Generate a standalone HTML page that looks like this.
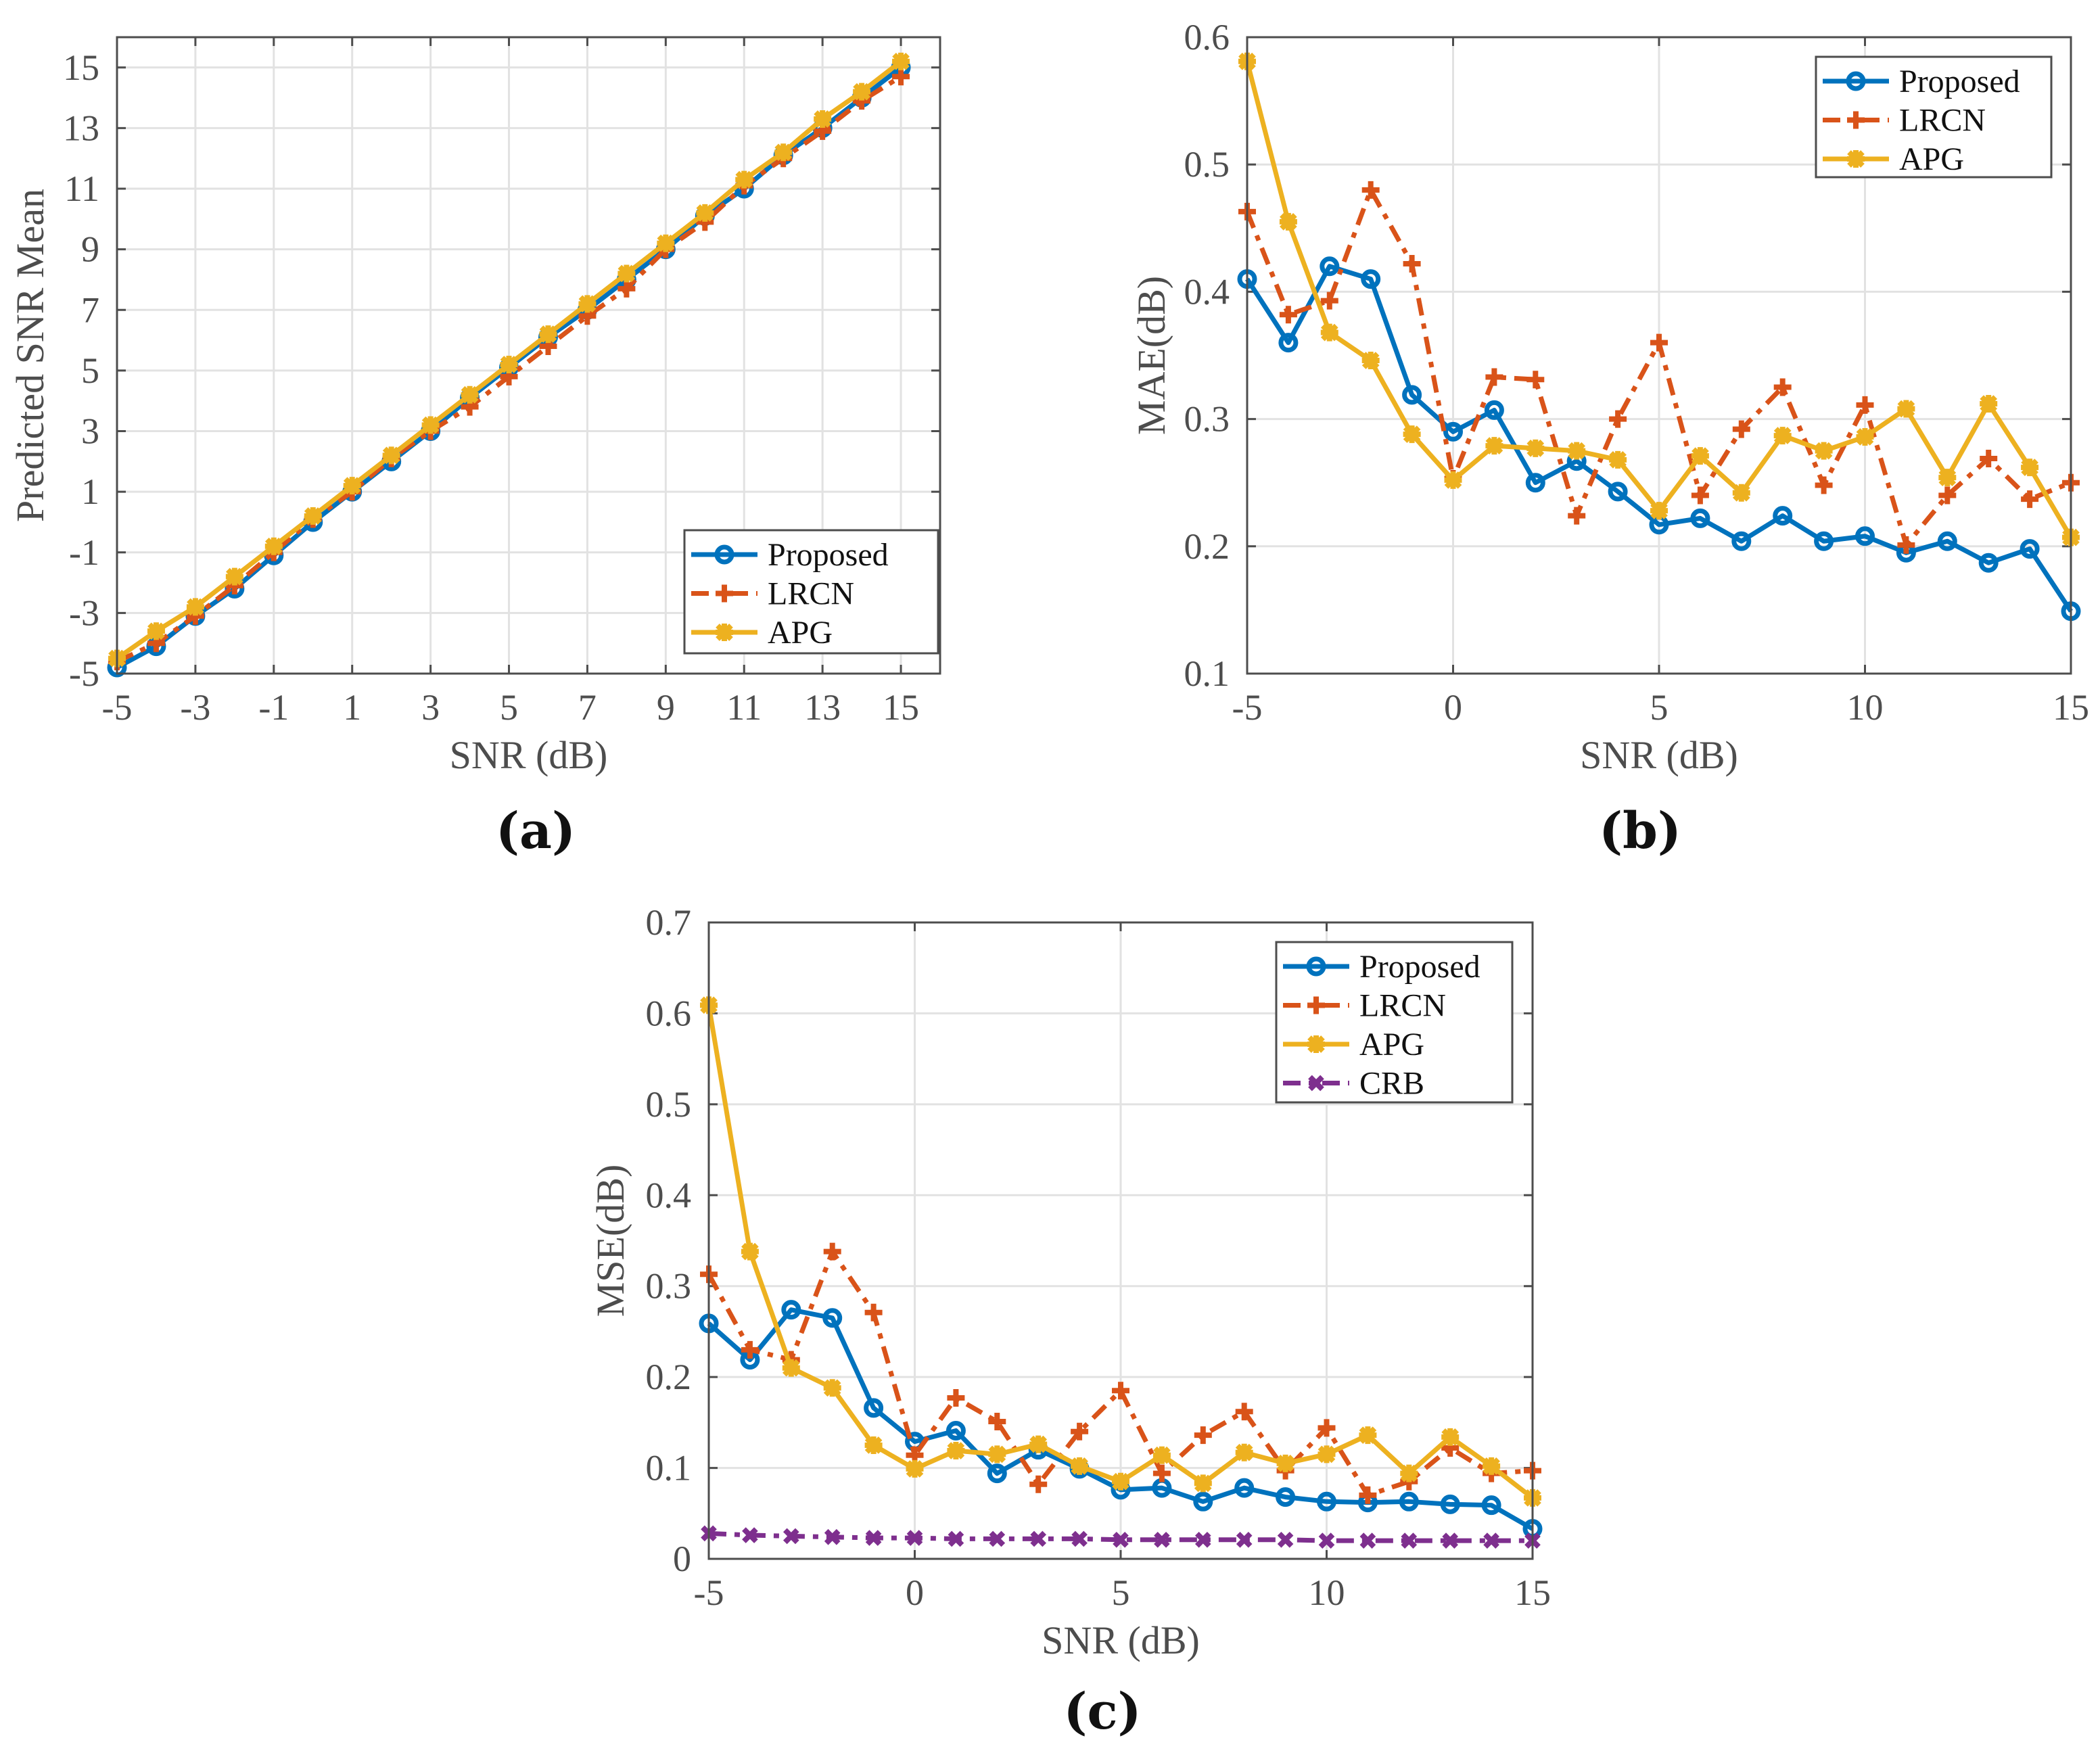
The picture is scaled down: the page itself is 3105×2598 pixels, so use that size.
<!DOCTYPE html>
<html><head><meta charset="utf-8"><style>
html,body{margin:0;padding:0;background:#fff;}
svg{display:block;font-family:"Liberation Serif",serif;}
</style></head><body>
<svg id="fig" width="3105" height="2598" viewBox="0 0 3105 2598" xmlns="http://www.w3.org/2000/svg"></svg>
<script>
const snr = [-5,-4,-3,-2,-1,0,1,2,3,4,5,6,7,8,9,10,11,12,13,14,15];
const aProposed = [-4.8,-4.1,-3.1,-2.2,-1.1,0,1.0,2.0,3.0,4.1,5.1,6.1,7.0,8.0,9.0,10.1,11.0,12.1,13.0,14.0,15.0];
const aLRCN = [-4.6,-4.0,-3.1,-2.1,-1.0,0.1,1.0,2.1,3.0,3.8,4.8,5.8,6.8,7.7,9.0,9.9,11.1,12.0,12.9,13.9,14.7];
const aAPG = [-4.5,-3.6,-2.8,-1.8,-0.8,0.2,1.2,2.2,3.2,4.2,5.2,6.2,7.2,8.2,9.2,10.2,11.3,12.2,13.3,14.2,15.2];
const bProposed = [0.410,0.360,0.420,0.410,0.319,0.290,0.307,0.250,0.267,0.243,0.217,0.222,0.204,0.224,0.204,0.208,0.195,0.204,0.187,0.198,0.149];
const bLRCN = [0.463,0.382,0.393,0.480,0.422,0.253,0.333,0.331,0.224,0.300,0.360,0.240,0.292,0.325,0.248,0.311,0.201,0.240,0.269,0.237,0.250];
const bAPG = [0.581,0.455,0.368,0.346,0.288,0.252,0.279,0.277,0.275,0.268,0.228,0.271,0.242,0.287,0.275,0.286,0.308,0.254,0.312,0.262,0.207];
const cProposed = [0.259,0.219,0.274,0.265,0.166,0.129,0.141,0.094,0.120,0.099,0.076,0.078,0.063,0.078,0.068,0.063,0.062,0.063,0.060,0.059,0.033];
const cLRCN = [0.313,0.230,0.219,0.338,0.271,0.114,0.177,0.151,0.082,0.140,0.185,0.094,0.136,0.162,0.097,0.144,0.070,0.085,0.122,0.094,0.097];
const cAPG = [0.609,0.338,0.210,0.188,0.125,0.099,0.119,0.115,0.126,0.102,0.085,0.114,0.083,0.117,0.105,0.115,0.136,0.094,0.134,0.102,0.067];
const cCRB = [0.028,0.026,0.025,0.024,0.023,0.023,0.022,0.022,0.022,0.022,0.021,0.021,0.021,0.021,0.021,0.020,0.020,0.020,0.020,0.020,0.020];
const aXTicks = [-5,-3,-1,1,3,5,7,9,11,13,15];
const aYTicks = [-5,-3,-1,1,3,5,7,9,11,13,15];
const bxT = [-5,0,5,10,15];
const bYTicks = [0.1,0.2,0.3,0.4,0.5,0.6];
const cYTicks = [0,0.1,0.2,0.3,0.4,0.5,0.6,0.7];

const NS='http://www.w3.org/2000/svg';
const svg=document.getElementById('fig');
function el(tag,attrs,parent){const e=document.createElementNS(NS,tag);for(const k in attrs)e.setAttribute(k,attrs[k]);(parent||svg).appendChild(e);return e;}
const COL={Proposed:'#0072BD',LRCN:'#D95319',APG:'#EDB120',CRB:'#7E2F8E'};
const DASH={Proposed:null,LRCN:'26 12 8 12',APG:null,CRB:'26 12 8 12'};

function marker(g,name,x,y){
  const c=COL[name];
  if(name==='Proposed'){const m=el('circle',{cx:x,cy:y,r:11,fill:'none',stroke:c,'stroke-width':7},g);}
  else if(name==='LRCN'){const m=el('path',{d:`M${x-13},${y}H${x+13}M${x},${y-13}V${y+13}`,stroke:c,'stroke-width':8,fill:'none'},g);}
  else if(name==='APG'){const m=el('path',{d:`M${x-13},${y}H${x+13}M${x},${y-13}V${y+13}M${x-10},${y-10}L${x+10},${y+10}M${x-10},${y+10}L${x+10},${y-10}`,stroke:c,'stroke-width':8,fill:'none'},g);}
  else {const m=el('path',{d:`M${x-9},${y-9}L${x+9},${y+9}M${x-9},${y+9}L${x+9},${y-9}`,stroke:c,'stroke-width':8,fill:'none'},g);}
}

function chart(o){
  const g=el('g',{});
  
  
  const sx=v=>o.L+(v-o.x0)/(o.x1-o.x0)*(o.R-o.L);
  const sy=v=>o.B-(v-o.y0)/(o.y1-o.y0)*(o.B-o.T);
  o.xt.forEach(v=>{const l=el('line',{x1:sx(v),x2:sx(v),y1:o.T,y2:o.B,stroke:'#e2e2e2','stroke-width':3},g);});
  o.yt.forEach(v=>{const l=el('line',{x1:o.L,x2:o.R,y1:sy(v),y2:sy(v),stroke:'#e2e2e2','stroke-width':3},g);});
  o.xt.forEach(v=>{const x=sx(v);const t=el('path',{d:`M${x},${o.B}v-13M${x},${o.T}v13`,stroke:'#4d4d4d','stroke-width':3},g);
    const tx=el('text',{x:x,y:o.B+68,'text-anchor':'middle','font-size':54,fill:'#4d4d4d'},g);tx.textContent=o.xf(v);});
  o.yt.forEach(v=>{const y=sy(v);const t=el('path',{d:`M${o.L},${y}h13M${o.R},${y}h-13`,stroke:'#4d4d4d','stroke-width':3},g);
    const tx=el('text',{x:o.L-26,y:y+18,'text-anchor':'end','font-size':54,fill:'#4d4d4d'},g);tx.textContent=o.yf(v);});
  o.series.forEach(s=>{
    const pts=snr.map((x,i)=>sx(x)+','+sy(s.vals[i])).join(' ');
    const a={points:pts,fill:'none',stroke:COL[s.n],'stroke-width':7,'stroke-linejoin':'round'};
    if(DASH[s.n])a['stroke-dasharray']=DASH[s.n];
    const p=el('polyline',a,g);
    snr.forEach((x,i)=>marker(g,s.n,sx(x),sy(s.vals[i])));
  });
  const fr=el('rect',{x:o.L,y:o.T,width:o.R-o.L,height:o.B-o.T,fill:'none',stroke:'#4d4d4d','stroke-width':3},g);
  const xt=el('text',{x:(o.L+o.R)/2,y:o.B+140,'text-anchor':'middle','font-size':58,fill:'#4d4d4d'},g);xt.textContent='SNR (dB)';
  const yx=o.ylx, yy=(o.T+o.B)/2;
  const yt=el('text',{x:yx,y:yy,'text-anchor':'middle','font-size':58,fill:'#4d4d4d',transform:`rotate(-90 ${yx} ${yy})`},g);yt.textContent=o.ylab;
  const lg=el('g',{},g);
  const lb=el('rect',{x:o.lg.x,y:o.lg.y,width:o.lg.w,height:o.lg.h,fill:'#fff',stroke:'#4d4d4d','stroke-width':3},lg);
  o.series.forEach((s,i)=>{
    const y=o.lg.y+36+i*57.5, x0=o.lg.x+10, x1=o.lg.x+108;
    const la={x1:x0,x2:x1,y1:y,y2:y,stroke:COL[s.n],'stroke-width':7};
    if(DASH[s.n])la['stroke-dasharray']=DASH[s.n];
    const ll=el('line',la,lg);
    marker(lg,s.n,(x0+x1)/2,y);
    const t=el('text',{x:o.lg.x+123,y:y+16,'font-size':48,fill:'#111'},lg);t.textContent=s.n;
  });
  const cap=el('text',{x:o.cap[0],y:o.cap[1],'text-anchor':'middle','font-size':74,'font-weight':'bold',fill:'#111','font-family':'"DejaVu Serif",serif'},g);cap.textContent=o.capt;
}
chart({name:'chart-a',L:173,R:1390,T:55,B:996,x0:-5,x1:16,y0:-5,y1:16,xt:aXTicks,yt:aYTicks,xf:v=>String(v),yf:v=>String(v),
  series:[{n:'Proposed',vals:aProposed},{n:'LRCN',vals:aLRCN},{n:'APG',vals:aAPG}],ylab:'Predicted SNR Mean',ylx:64,
  lg:{x:1012,y:784,w:375,h:182},cap:[792,1254],capt:'(a)'});
chart({name:'chart-b',L:1844,R:3062,T:55,B:996,x0:-5,x1:15,y0:0.1,y1:0.6,xt:bxT,yt:bYTicks,xf:v=>String(v),yf:v=>v.toFixed(1),
  series:[{n:'Proposed',vals:bProposed},{n:'LRCN',vals:bLRCN},{n:'APG',vals:bAPG}],ylab:'MAE(dB)',ylx:1722,
  lg:{x:2685,y:84,w:348,h:178},cap:[2425,1254],capt:'(b)'});
chart({name:'chart-c',L:1048,R:2266,T:1364,B:2305,x0:-5,x1:15,y0:0,y1:0.7,xt:bxT,yt:cYTicks,xf:v=>String(v),yf:v=>v===0?'0':v.toFixed(1),
  series:[{n:'Proposed',vals:cProposed},{n:'LRCN',vals:cLRCN},{n:'APG',vals:cAPG},{n:'CRB',vals:cCRB}],ylab:'MSE(dB)',ylx:922,
  lg:{x:1887,y:1393,w:349,h:237},cap:[1630,2556],capt:'(c)'});
</script>
</body></html>
